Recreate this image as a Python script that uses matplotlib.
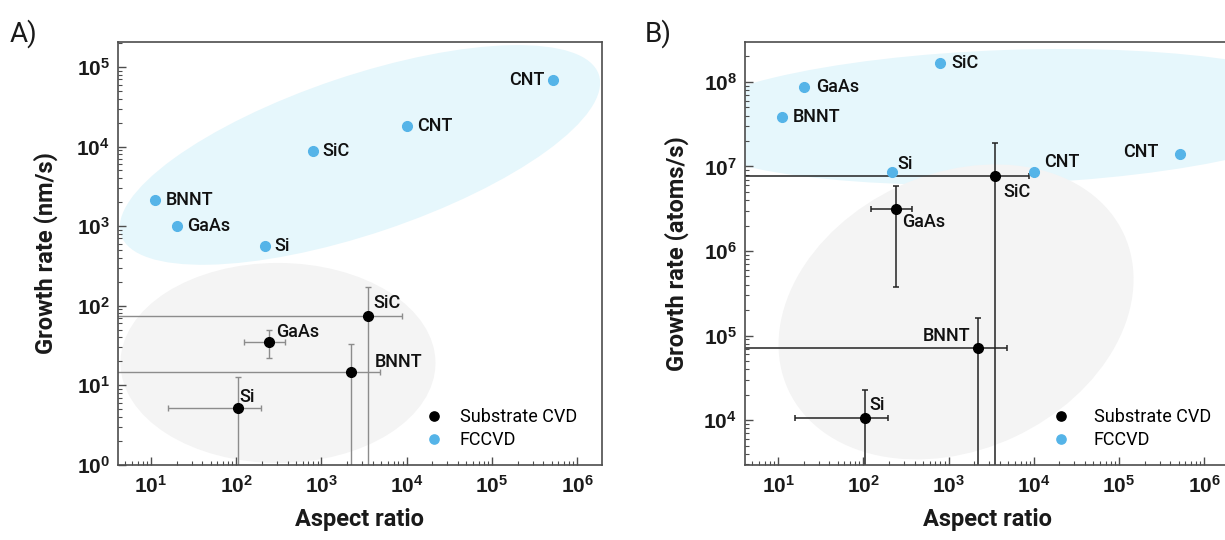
import numpy as np
import matplotlib
matplotlib.use("Agg")
import matplotlib.pyplot as plt
from matplotlib.patches import Ellipse
from matplotlib.transforms import Affine2D
from matplotlib import ticker as tck

plt.rcParams['font.family'] = ['Roboto', 'DejaVu Sans']
plt.rcParams['mathtext.fontset'] = 'custom'
plt.rcParams['mathtext.rm'] = 'Liberation Sans:bold'
plt.rcParams['mathtext.it'] = 'Liberation Sans:bold'
plt.rcParams['mathtext.bf'] = 'Liberation Sans:bold'

# aspect ratios (shared by both panels)
sub_names = ["SiC", "GaAs", "BNNT", "Si"]
sub_ar = [3550, 245, 2190, 105]
sub_ar_lo = [1, 122, 1, 16]
sub_ar_hi = [8700, 370, 4800, 195]

fc_names = ["CNT", "CNT", "SiC", "BNNT", "GaAs", "Si"]
fc_ar = [5.2e5, 1.0e4, 800, 11, 20, 215]

# A) growth rate in nm/s
sub_nm = [74, 35, 14.5, 5.2]
sub_nm_lo = [0.5, 22, 0.5, 0.5]
sub_nm_hi = [170, 49, 33, 12.6]
fc_nm = [6.8e4, 1.8e4, 8.7e3, 2.1e3, 1.0e3, 560]

# B) growth rate in atoms/s
sub_at = [7.6e6, 3.1e6, 7.2e4, 1.06e4]
sub_at_lo = [1e3, 3.7e5, 1e3, 1e3]
sub_at_hi = [1.9e7, 5.8e6, 1.6e5, 2.3e4]
fc_at = [1.42e7, 8.5e6, 1.67e8, 3.8e7, 8.7e7, 8.5e6]

BLUE = "#55b4e8"
BLUE_BG = "#e6f7fc"
GRAY_BG = "#f4f4f4"
INK = "#1a1a1a"

fig = plt.figure(figsize=(12.25, 5.4), dpi=100)
axA = fig.add_axes([0.0963, 0.139, 0.3951, 0.783])
axB = fig.add_axes([0.6082, 0.139, 0.3951, 0.783])


def blob(ax, cx, cy, w, h, angle, color):
    # ellipse given in pixels from the lower-left corner of the axes
    pos = ax.get_position()
    W = pos.width * fig.get_figwidth() * fig.dpi
    H = pos.height * fig.get_figheight() * fig.dpi
    tr = Affine2D().scale(1.0 / W, 1.0 / H) + ax.transAxes
    ax.add_patch(Ellipse((cx, cy), w, h, angle=angle, transform=tr,
                         facecolor=color, edgecolor='none', zorder=0))


def errs(v, lo, hi):
    v = np.array(v, float)
    return [v - np.array(lo, float), np.array(hi, float) - v]


def decade(v, pos):
    return r"$\mathbf{10^{%d}}$" % int(round(np.log10(v)))


def style(ax, ylabel, ylim, ypad):
    ax.set_xscale('log')
    ax.set_yscale('log')
    ax.set_xlim(4.1, 1.95e6)
    ax.set_ylim(*ylim)
    for axis in (ax.xaxis, ax.yaxis):
        axis.set_major_locator(tck.LogLocator(base=10, numticks=20))
        axis.set_minor_locator(tck.LogLocator(base=10, subs=np.arange(2, 10), numticks=20))
        axis.set_major_formatter(tck.FuncFormatter(decade))
        axis.set_minor_formatter(tck.NullFormatter())
    ax.tick_params(which='both', direction='in', top=False, right=False,
                   colors='#4d4d4d', labelcolor=INK, labelsize=15)
    ax.tick_params(which='major', length=6, width=1)
    ax.tick_params(which='minor', length=3, width=0.8)
    ax.tick_params(axis='x', pad=7)
    ax.tick_params(axis='y', pad=6)
    for s in ax.spines.values():
        s.set_color('#4d4d4d')
        s.set_linewidth(1.2)
    ax.set_xlabel("Aspect ratio", fontsize=17, fontweight='bold', labelpad=8, color=INK)
    ax.set_ylabel(ylabel, fontsize=17, fontweight='bold', labelpad=ypad, color=INK)


def label(ax, txt, x, y, dx, dy, ha='left'):
    ax.annotate(txt, (x, y), xytext=(dx, dy), textcoords='offset pixels',
                ha=ha, va='center', fontsize=13, fontweight='medium',
                color='#111111', zorder=5)


# ---- panel A ----
blob(axA, 242, 310, 504, 158, 18.6, BLUE_BG)
blob(axA, 160, 102, 315, 200, 0, GRAY_BG)
axA.errorbar(sub_ar, sub_nm, xerr=errs(sub_ar, sub_ar_lo, sub_ar_hi),
             yerr=errs(sub_nm, sub_nm_lo, sub_nm_hi), fmt='none',
             ecolor='#8c8c8c', elinewidth=1.0, capsize=2, capthick=1.0, zorder=2)
axA.plot(sub_ar, sub_nm, 'o', color='black', ms=7, zorder=3, label="Substrate CVD")
axA.plot(fc_ar, fc_nm, 'o', color=BLUE, ms=7, zorder=3, label="FCCVD")

offA_fc = [(-9, 0, 'right'), (10, 0, 'left'), (9, 0, 'left'),
           (11, 0, 'left'), (10, 0, 'left'), (10, 0, 'left')]
for n, x, y, (dx, dy, ha) in zip(fc_names, fc_ar, fc_nm, offA_fc):
    label(axA, n, x, y, dx, dy, ha)
offA_sub = [(5, 13), (7, 10), (24, 10), (1, 11)]
for n, x, y, (dx, dy) in zip(sub_names, sub_ar, sub_nm, offA_sub):
    label(axA, n, x, y, dx, dy)

style(axA, "Growth rate (nm/s)", (1, 2.05e5), 13)
axA.legend(loc='lower left', bbox_to_anchor=(0.62, 0.02), frameon=False,
           fontsize=13, handlelength=1.0, handletextpad=0.9, labelspacing=0.3,
           borderaxespad=0, markerscale=0.95)

# ---- panel B ----
blob(axB, 263, 348, 660, 134, 2, BLUE_BG)
blob(axB, 211, 153, 370, 276, 25, GRAY_BG)
axB.errorbar(sub_ar, sub_at, xerr=errs(sub_ar, sub_ar_lo, sub_ar_hi),
             yerr=errs(sub_at, sub_at_lo, sub_at_hi), fmt='none',
             ecolor='#222222', elinewidth=1.1, capsize=2.5, capthick=1.1, zorder=2)
axB.plot(sub_ar, sub_at, 'o', color='black', ms=7, zorder=3, label="Substrate CVD")
axB.plot(fc_ar, fc_at, 'o', color=BLUE, ms=7, zorder=3, label="FCCVD")

offB_fc = [(-22, 2, 'right'), (10, 10, 'left'), (11, 0, 'left'),
           (11, 0, 'left'), (12, 0, 'left'), (6, 8, 'left')]
for n, x, y, (dx, dy, ha) in zip(fc_names, fc_ar, fc_at, offB_fc):
    label(axB, n, x, y, dx, dy, ha)
offB_sub = [(8, -16, 'left'), (6, -13, 'left'), (-7, 12, 'right'), (4, 13, 'left')]
for n, x, y, (dx, dy, ha) in zip(sub_names, sub_ar, sub_at, offB_sub):
    label(axB, n, x, y, dx, dy, ha)

style(axB, "Growth rate (atoms/s)", (2.95e3, 2.95e8), 10)
axB.legend(loc='lower left', bbox_to_anchor=(0.62, 0.02), frameon=False,
           fontsize=13, handlelength=1.0, handletextpad=1.3, labelspacing=0.3,
           borderaxespad=0, markerscale=0.95)

fig.text(10 / 1225, 1 - 42 / 540, "A)", fontsize=20, color=INK)
fig.text(645 / 1225, 1 - 42 / 540, "B)", fontsize=20, color=INK)

fig.savefig("out.png", dpi=100)
